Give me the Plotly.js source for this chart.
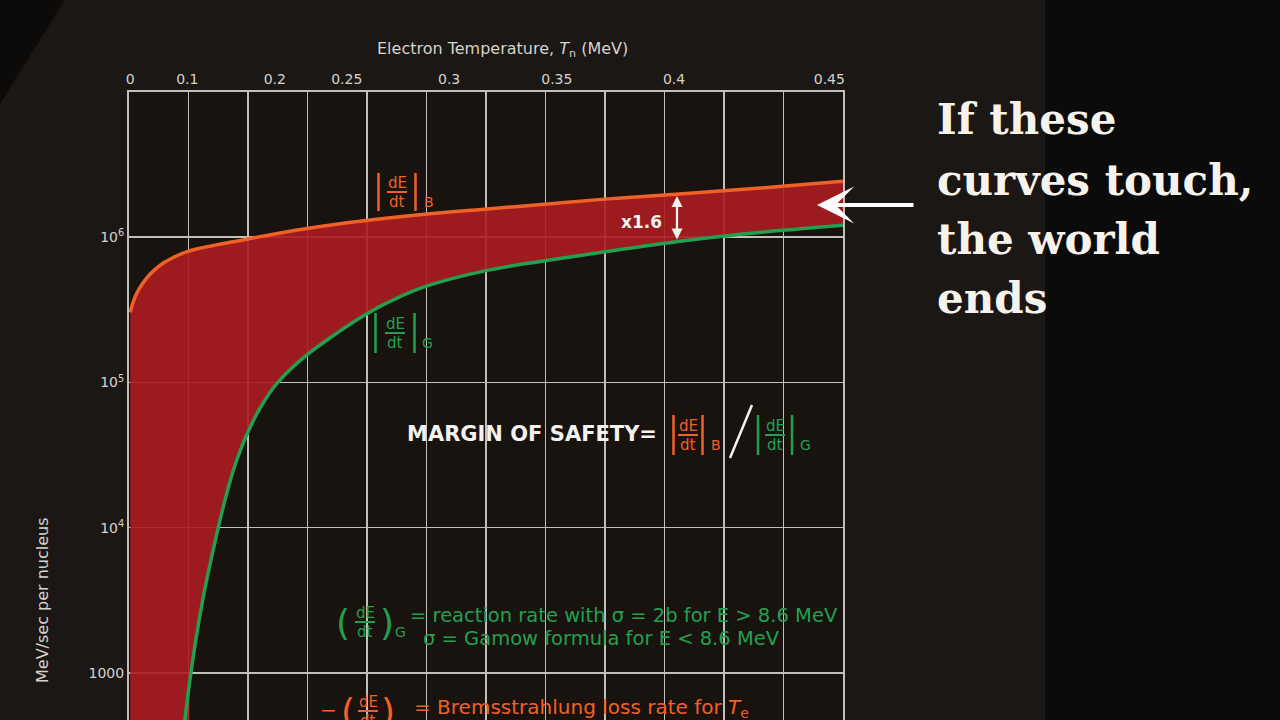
<!DOCTYPE html>
<html><head><meta charset="utf-8">
<script src="https://cdn.plot.ly/plotly-3.0.1.min.js"></script>
<style>html,body{margin:0;padding:0;background:#1b1714;}#chart{width:1280px;height:720px;}</style>
</head><body><div id="chart"></div>
<script>
// x axis: the 12 columns of the original graph paper; temperature labels sit at their own column positions
const tempTickPos  = [0.02, 0.98, 2.45, 3.66, 5.38, 7.19, 9.16, 11.77];
const tempTickText = ['0', '0.1', '0.2', '0.25', '0.3', '0.35', '0.4', '0.45'];

// |dE/dt|_B  (Bremsstrahlung loss rate), MeV/sec per nucleus
const bremsX = [0.02, 0.07, 0.13, 0.22, 0.32, 0.44, 0.57, 0.72, 0.99, 1.98, 2.99, 3.88, 4.97, 5.98, 6.99, 8.0, 9.01, 9.93, 11.03, 12.0];
const bremsY = [3.04e5, 3.57e5, 4.11e5, 4.74e5, 5.38e5, 6.01e5, 6.62e5, 7.17e5, 8.0e5, 9.7e5, 1.15e6, 1.29e6, 1.44e6, 1.56e6, 1.69e6, 1.83e6, 1.95e6, 2.08e6, 2.25e6, 2.43e6];

// |dE/dt|_G  (fusion reaction rate), MeV/sec per nucleus
const gamowX = [0.86, 1.04, 1.24, 1.50, 1.65, 1.78, 1.98, 2.20, 2.45, 2.71, 2.99, 3.38, 3.71, 4.0, 4.22, 4.89, 5.98, 6.99, 8.0, 9.01, 9.93, 11.03, 12.0];
const gamowY = [250, 1000, 3190, 1.0e4, 1.77e4, 2.68e4, 4.38e4, 6.62e4, 9.46e4, 1.23e5, 1.55e5, 2.03e5, 2.51e5, 2.97e5, 3.34e5, 4.45e5, 5.87e5, 6.89e5, 7.94e5, 9.09e5, 1.01e6, 1.12e6, 1.21e6];

const yTickVals = [1000, 1e4, 1e5, 1e6];
const yTickText = ['1000', '10<sup>4</sup>', '10<sup>5</sup>', '10<sup>6</sup>'];

const ORANGE = '#f06127', GREEN = '#23a04f', GRID = '#c2beba', TXT = '#d6d2cd';
const HAND = '"DejaVu Sans", Lato, sans-serif';
const SPL = {shape: 'spline', smoothing: 1};

// lower edge of the band: the G curve, carried left along its lowest value to the first B point
const baseX = [bremsX[0]].concat(gamowX);
const baseY = [gamowY[0]].concat(gamowY);

const traces = [
  {x: baseX, y: baseY, type: 'scatter', mode: 'lines', line: Object.assign({width: 0}, SPL), hoverinfo: 'skip'},
  {x: bremsX, y: bremsY, type: 'scatter', mode: 'lines', fill: 'tonexty',
   fillcolor: 'rgba(172,28,33,0.9)', line: Object.assign({width: 0}, SPL), hoverinfo: 'skip'},
  {x: gamowX, y: gamowY, type: 'scatter', mode: 'lines', name: '|dE/dt|G',
   line: Object.assign({color: GREEN, width: 3.5}, SPL)},
  {x: bremsX, y: bremsY, type: 'scatter', mode: 'lines', name: '|dE/dt|B',
   line: Object.assign({color: ORANGE, width: 3.5}, SPL)},
  {x: [tempTickPos[0]], y: [1e6], xaxis: 'x2', type: 'scatter', mode: 'markers',
   marker: {opacity: 0}, hoverinfo: 'skip'}
];

// pixel -> paper helpers for the hand-written overlays
const L = 129, R = 843, T = 92, B = 720;
const px = x => (x - L) / (R - L);
const py = y => (B - y) / (B - T);

const annotations = [];
const shapes = [];

function txt(x, y, text, size, color, opt) {
  annotations.push(Object.assign({xref: 'paper', yref: 'paper', x: px(x), y: py(y), text: text,
    showarrow: false, xanchor: 'center', yanchor: 'middle',
    font: {family: HAND, size: size, color: color}}, opt || {}));
}
function seg(x0, y0, x1, y1, color, w) {
  shapes.push({type: 'line', xref: 'paper', yref: 'paper', x0: px(x0), y0: py(y0), x1: px(x1), y1: py(y1),
    line: {color: color, width: w}});
}
// |dE/dt|_sub  or (dE/dt)_sub
function frac(cx, cy, color, sub, w, h, paren) {
  txt(cx, cy - 9, 'dE', 15, color);
  txt(cx, cy + 10, 'dt', 15, color);
  seg(cx - 10, cy, cx + 10, cy, color, 2);
  if (paren) {
    txt(cx - w, cy, '(', 36, color, {font: {family: HAND, size: 36, color: color}});
    txt(cx + w, cy, ')', 36, color, {font: {family: HAND, size: 36, color: color}});
  } else {
    seg(cx - w, cy - h, cx - w, cy + h, color, 2.5);
    seg(cx + w, cy - h, cx + w, cy + h, color, 2.5);
  }
  if (sub) txt(cx + w + 13, cy + 10, sub, 14, color);
}

frac(397, 192, ORANGE, 'B', 18.5, 19);
frac(395, 333, GREEN, 'G', 19.5, 20);
txt(532, 434, '<b>MARGIN OF SAFETY=</b>', 21, '#f4f2ee');
frac(688, 435, ORANGE, 'B', 14.5, 20);
seg(730, 458, 752, 405, '#f4f2ee', 2.5);
frac(775, 435, GREEN, 'G', 17, 20);

txt(641, 222, '<b>x1.6</b>', 17, '#f4f2ee');
annotations.push({xref: 'paper', yref: 'paper', x: px(677), y: py(196), ax: 0, ay: 45,
  text: '', showarrow: true, arrowhead: 2, startarrowhead: 2, arrowside: 'end+start',
  arrowsize: 1, arrowwidth: 2.2, arrowcolor: '#f4f2ee'});

frac(365, 622, GREEN, 'G', 22, 20, true);
txt(408, 615, '= reaction rate with σ = 2b for E > 8.6 MeV', 19.5, GREEN, {xanchor: 'left'});
txt(421, 638, 'σ = Gamow formula for E < 8.6 MeV', 19.5, GREEN, {xanchor: 'left'});
txt(328, 710, '−', 20, ORANGE);
frac(368, 711, ORANGE, '', 20, 20, true);
txt(412, 708, '= Bremsstrahlung loss rate for <i>T</i><sub>e</sub>', 20, ORANGE, {xanchor: 'left'});

// axis titles drawn as hand-placed labels
txt(42, 600, 'MeV/sec per nucleus', 16, TXT, {textangle: -90});
txt(502, 50, 'Electron Temperature, <i>T</i><sub>n</sub> (MeV)', 16, TXT);

// big arrow and statement
annotations.push({xref: 'paper', yref: 'paper', x: px(817), y: py(205), ax: 98, ay: 0,
  text: '', showarrow: true, arrowhead: 3, arrowsize: 1.55, arrowwidth: 4, arrowcolor: '#ffffff'});
const SERIF = '"DejaVu Serif", "Liberation Serif", serif';
[['If these', 119], ['curves touch,', 180], ['the world', 240], ['ends', 298]].forEach(function (p) {
  txt(935, p[1], '<b>' + p[0] + '</b>', 42, '#f6f3ec', {xanchor: 'left', font: {family: SERIF, size: 42, color: '#f6f3ec'}});
});

// background panels
shapes.push({type: 'rect', xref: 'paper', yref: 'paper', x0: px(1045), x1: px(1290), y0: py(730), y1: py(-10),
  fillcolor: '#0c0b0b', line: {width: 0}, layer: 'below'});
shapes.push({type: 'path', xref: 'paper', yref: 'paper', layer: 'below', fillcolor: '#0d0b0a', line: {width: 0},
  path: 'M ' + px(-5) + ' ' + py(-5) + ' L ' + px(68) + ' ' + py(-5) + ' L ' + px(-5) + ' ' + py(112) + ' Z'});

const layout = {
  width: 1280, height: 720,
  margin: {l: L, r: 1280 - R, t: T, b: 0},
  paper_bgcolor: '#1b1714', plot_bgcolor: '#18130f',
  showlegend: false,
  font: {family: HAND, color: TXT},
  xaxis: {range: [0, 12], tick0: 0, dtick: 1, showgrid: true, gridcolor: GRID, gridwidth: 1.5,
    showticklabels: false, showline: false, zeroline: false, ticks: ''},
  xaxis2: {overlaying: 'x', side: 'top', range: [0, 12], tickmode: 'array',
    tickvals: tempTickPos, ticktext: tempTickText, showgrid: false, zeroline: false,
    showline: true, linecolor: GRID, linewidth: 2, ticks: '',
    tickfont: {family: HAND, size: 14, color: TXT}},
  yaxis: {type: 'log', range: [2.676, 7], tickmode: 'array', tickvals: yTickVals, ticktext: yTickText,
    showgrid: true, gridcolor: GRID, gridwidth: 1.5, showline: true, mirror: true,
    linecolor: GRID, linewidth: 2, zeroline: false, ticks: '',
    tickfont: {family: HAND, size: 14, color: TXT}},
  annotations: annotations,
  shapes: shapes
};

Plotly.newPlot('chart', traces, layout, {displayModeBar: false, staticPlot: true});
</script>
</body></html>
